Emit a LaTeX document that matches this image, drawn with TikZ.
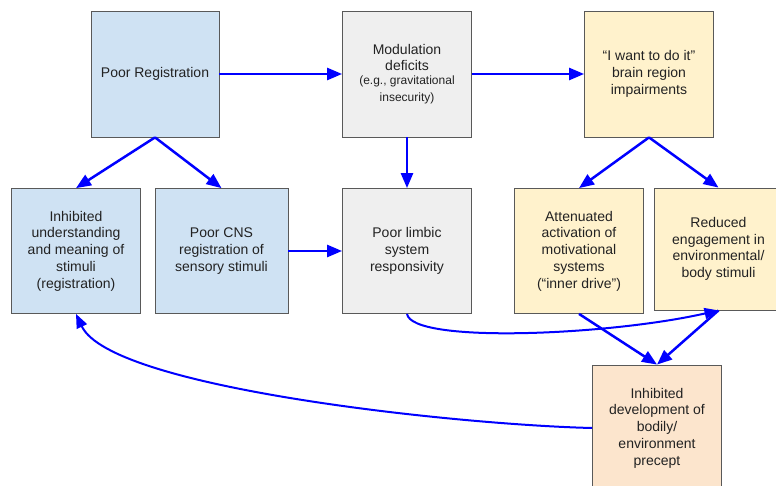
\documentclass[tikz,border=0pt]{standalone}
\usepackage{fontspec}
\setmainfont{Liberation Sans}
\usetikzlibrary{positioning,arrows.meta}

\definecolor{regblue}{HTML}{CFE2F3}
\definecolor{modgray}{HTML}{EFEFEF}
\definecolor{wantyellow}{HTML}{FFF2CC}
\definecolor{devpeach}{HTML}{FCE5CD}
\definecolor{edgegray}{HTML}{595959}
\definecolor{txt}{HTML}{222222}
\newcommand{\notefont}{\fontsize{12}{14.5}\selectfont}

\begin{document}
\begin{tikzpicture}[x=1pt, y=-1pt, node distance=252pt,
                    main node/.style={rectangle,draw=edgegray,line width=0.8pt,text=txt,
                      minimum width=129pt,minimum height=126pt,align=center,inner sep=2pt,
                      font=\fontsize{14}{16.7}\selectfont},
                    link/.style={draw=blue,line width=2.5pt,-{Triangle[length=15pt,width=12pt]}},
                    bend link/.style={draw=blue,line width=2pt,-{Triangle[length=14pt,width=11pt]}}]

  \useasboundingbox (0,0) rectangle (776,486);

  \node[main node,fill=regblue,minimum width=128pt] (1) at (155,74) {Poor Registration};
  \node[main node,fill=modgray] (2) [right of=1] {Modulation\\deficits\\[-3pt]{\notefont (e.g., gravitational}\\{\notefont insecurity)}};
  \node[main node,fill=wantyellow] (3) [right of=2, node distance=242pt] {“I want to do it”\\brain region\\impairments};
  \node[main node,fill=regblue,minimum height=125pt] (4) at (76,251) {Inhibited\\understanding\\and meaning of\\stimuli\\(registration)};
  \node[main node,fill=regblue,minimum width=133pt,minimum height=125pt] (5) [right of=4, node distance=145.5pt] {Poor CNS\\registration of\\sensory stimuli};
  \node[main node,fill=modgray,minimum height=125pt] (6) [below of=2, node distance=177pt] {Poor limbic\\system\\responsivity};
  \node[main node,fill=wantyellow,minimum height=125pt] (7) at (579,251) {Attenuated\\activation of\\motivational\\systems\\(“inner drive”)};
  \node[main node,fill=wantyellow,minimum height=122pt] (8) at (718.5,249) {Reduced\\engagement in\\environmental/\\body stimuli};
  \node[main node,fill=devpeach] (9) at (657,428) {Inhibited\\development of\\bodily/\\environment\\precept};

  \path[link] (1) -- (2);
  \path[link] (2) -- (3);
  \path[link] (1.south) -- (4.north);
  \path[link] (1.south) -- (5.north);
  \path[link] (2) -- (6);
  \path[link] (5) -- (6);
  \path[link] (3.south) -- (7.north);
  \path[link] (3.south) -- (8.north);
  \path[link] (7.south) -- (9.north);
  \path[link] (8.south) -- (9.north);
  \path[bend link] (6.south) .. controls +(5,30) and +(-110,25) .. (8.south);
  \path[bend link] (9.west) .. controls +(-130,-3) and +(35,75) .. (4.south);

\end{tikzpicture}
\end{document}
